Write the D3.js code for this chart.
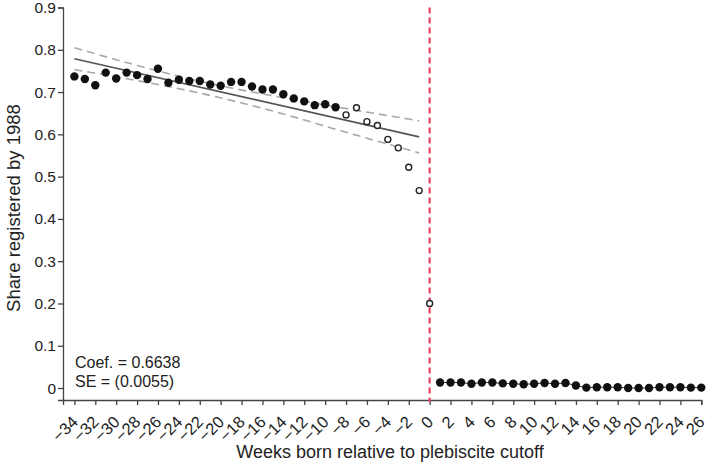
<!DOCTYPE html>
<html>
<head>
<meta charset="utf-8">
<script src="https://cdn.jsdelivr.net/npm/d3@7"></script>
<style>
  body { margin: 0; background: #fff; }
  svg { font-family: "Liberation Sans", Arial, sans-serif; }
</style>
</head>
<body>
<div id="chart"></div>
<script>
// Weeks before the cutoff and the share registered
const weeksBefore = [-34, -33, -32, -31, -30, -29, -28, -27, -26, -25, -24, -23, -22, -21, -20, -19, -18,
  -17, -16, -15, -14, -13, -12, -11, -10, -9, -8, -7, -6, -5, -4, -3, -2, -1];
const shareBefore = [0.737, 0.731, 0.716, 0.746, 0.732, 0.746, 0.740, 0.731, 0.755, 0.722, 0.729, 0.726,
  0.726, 0.718, 0.715, 0.724, 0.724, 0.713, 0.706, 0.706, 0.695, 0.685, 0.678, 0.669, 0.671, 0.664,
  0.646, 0.663, 0.630, 0.621, 0.588, 0.568, 0.522, 0.467];
// weeks drawn as hollow circles (left out of the fit)
const donutWeeks = [-8, -7, -6, -5, -4, -3, -2, -1, 0];

const cutoffWeek = [0];
const cutoffShare = [0.200];

const weeksAfter = [1, 2, 3, 4, 5, 6, 7, 8, 9, 10, 11, 12, 13, 14, 15, 16, 17, 18, 19, 20, 21, 22, 23, 24, 25, 26];
const shareAfter = [0.013, 0.013, 0.013, 0.010, 0.013, 0.013, 0.011, 0.010, 0.009, 0.010, 0.012, 0.010, 0.012,
  0.006, 0.001, 0.002, 0.002, 0.002, 0.000, 0.000, 0.000, 0.002, 0.002, 0.002, 0.001, 0.001];

// fitted line and confidence band (left side)
const fitWeeks = [-34, -1];
const fitShare = [0.779, 0.594];
const ciWeeks = [-34, -28, -21, -15, -8, -1];
const ciLower = [0.753, 0.727, 0.692, 0.655, 0.605, 0.556];
const ciUpper = [0.805, 0.763, 0.720, 0.691, 0.661, 0.632];

const xTicks = [-34, -32, -30, -28, -26, -24, -22, -20, -18, -16, -14, -12, -10, -8, -6, -4, -2,
  0, 2, 4, 6, 8, 10, 12, 14, 16, 18, 20, 22, 24, 26];
const yTicks = [0, 0.1, 0.2, 0.3, 0.4, 0.5, 0.6, 0.7, 0.8, 0.9];

const annotation = ["Coef. = 0.6638", "SE = (0.0055)"];

// SVG
const W = 708, H = 465;
const svg = d3.select("#chart")
  .append("svg")
  .attr("width", W)
  .attr("height", H);

const x = d3.scaleLinear()
  .domain([-35.09, 26])
  .range([63, 701.3]);

const y = d3.scaleLinear()
  .domain([-0.0283, 0.9])
  .range([400, 7.5]);

// Axes
const xAxis = svg.append("g")
  .attr("transform", "translate(0,400)")
  .call(d3.axisBottom(x).tickValues(xTicks).tickSizeOuter(0).tickSize(5)
    .tickFormat(d => d < 0 ? "\u2212" + Math.abs(d) : String(d)));
xAxis.selectAll("text")
  .attr("font-size", 16.5)
  .attr("fill", "#222")
  .attr("text-anchor", "end")
  .attr("x", 0)
  .attr("y", 0)
  .attr("dy", 0)
  .attr("transform", "translate(4,23) rotate(-45)");

const yAxis = svg.append("g")
  .attr("transform", "translate(63,0)")
  .call(d3.axisLeft(y).tickValues(yTicks).tickSizeOuter(0).tickSize(5)
    .tickFormat(d => d === 0 ? "0" : d3.format(".1f")(d)));
yAxis.selectAll("text")
  .attr("font-size", 15.5)
  .attr("fill", "#222")
  .attr("x", -7);

svg.selectAll(".domain, .tick line").attr("stroke", "#444").attr("stroke-width", 1.3);

// Axis titles
svg.append("text")
  .attr("x", 390)
  .attr("y", 458)
  .attr("text-anchor", "middle")
  .attr("font-size", 18)
  .attr("fill", "#222")
  .text("Weeks born relative to plebiscite cutoff");

svg.append("text")
  .attr("transform", "rotate(-90)")
  .attr("x", -208)
  .attr("y", 20)
  .attr("text-anchor", "middle")
  .attr("font-size", 18.5)
  .attr("fill", "#222")
  .text("Share registered by 1988");

// Cutoff line
svg.append("line")
  .attr("x1", x(0)).attr("x2", x(0))
  .attr("y1", y(0.9)).attr("y2", 402)
  .attr("stroke", "#e8415f")
  .attr("stroke-width", 2.2)
  .attr("stroke-dasharray", "6,4");

// Confidence band (dashed) and fit (solid)
const ciLine = d3.line()
  .x((d, i) => x(ciWeeks[i]))
  .y(d => y(d))
  .curve(d3.curveMonotoneX);

[ciUpper, ciLower].forEach(arr => {
  svg.append("path")
    .datum(arr)
    .attr("fill", "none")
    .attr("stroke", "#a8a8a8")
    .attr("stroke-width", 1.6)
    .attr("stroke-dasharray", "8,5")
    .attr("d", ciLine);
});

svg.append("path")
  .datum(fitShare)
  .attr("fill", "none")
  .attr("stroke", "#555")
  .attr("stroke-width", 1.6)
  .attr("d", d3.line().x((d, i) => x(fitWeeks[i])).y(d => y(d)));

// Right side connecting line
svg.append("path")
  .datum(shareAfter)
  .attr("fill", "none")
  .attr("stroke", "#333")
  .attr("stroke-width", 1)
  .attr("d", d3.line().x((d, i) => x(weeksAfter[i])).y(d => y(d)));

// Points
const pts = weeksBefore.map((w, i) => ({ w, v: shareBefore[i] }))
  .concat(cutoffWeek.map((w, i) => ({ w, v: cutoffShare[i] })))
  .concat(weeksAfter.map((w, i) => ({ w, v: shareAfter[i] })));

svg.selectAll("circle.pt")
  .data(pts)
  .enter()
  .append("circle")
  .attr("class", "pt")
  .attr("cx", d => x(d.w))
  .attr("cy", d => y(d.v))
  .attr("r", d => donutWeeks.includes(d.w) ? 3.0 : 4.2)
  .attr("fill", d => donutWeeks.includes(d.w) ? "#fff" : "#111")
  .attr("stroke", d => donutWeeks.includes(d.w) ? "#222" : "none")
  .attr("stroke-width", 1.4);

// Annotation
annotation.forEach((t, i) => {
  svg.append("text")
    .attr("x", 75)
    .attr("y", 368 + i * 18.5)
    .attr("font-size", 16)
    .attr("fill", "#222")
    .text(t);
});
</script>
</body>
</html>
